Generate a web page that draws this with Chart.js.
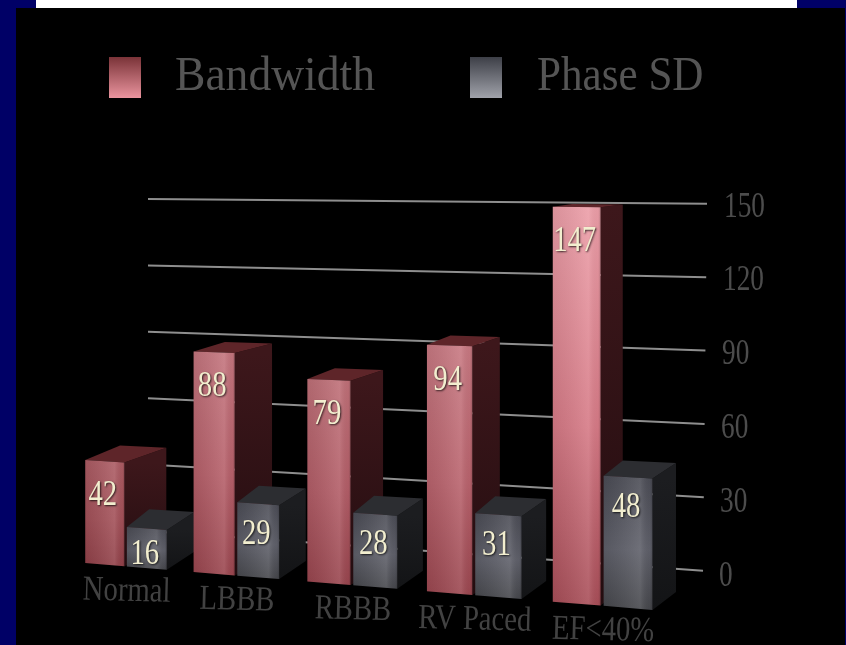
<!DOCTYPE html>
<html>
<head>
<meta charset="utf-8">
<script src="https://cdn.jsdelivr.net/npm/chart.js@4"></script>
<style>
  html, body { margin: 0; padding: 0; width: 846px; height: 645px; overflow: hidden; background: #000066; }
  #topbar { position: absolute; left: 36px; top: 0; width: 761px; height: 8px; background: #fff; }
  #panel { position: absolute; left: 16px; top: 8px; width: 829px; height: 637px; background: #000; }
  #chart { position: absolute; left: 0; top: 0; }
</style>
</head>
<body>
<div id="topbar"></div>
<div id="panel"></div>
<canvas id="chart" width="846" height="645"></canvas>
<script>
const categories = ['Normal', 'LBBB', 'RBBB', 'RV Paced', 'EF<40%'];
const bandwidth = [42, 88, 79, 94, 147];
const phaseSd = [16, 29, 28, 31, 48];
const axisMax = 150;
const axisStep = 30;

const SERIF = '"Liberation Serif", serif';

// The flat chart area is viewed in perspective: u runs 0..1 across the area
const viewX = u => (517.4 * u + 72.4) / (1 - 0.1182 * u);
// y on the plane holding the bar fronts
const frontY = (x, val) => 563 + 0.0825 * (x - 84) - val * (2.452 + 0.0005 * (x - 84));
// y on the back wall holding the grid lines
const wallY = (x, val) => {
  const y0 = 531 + 0.0716 * (x - 148);
  const yTop = 199 + 0.0084 * (x - 148);
  return y0 + (yTop - y0) * val / axisMax;
};

const mix = (a, b, t) => 'rgb(' + a.map((c, i) => Math.round(c + (b[i] - c) * t)).join(',') + ')';

function poly(ctx, pts, fill) {
  ctx.beginPath();
  pts.forEach((p, i) => i ? ctx.lineTo(p[0], p[1]) : ctx.moveTo(p[0], p[1]));
  ctx.closePath();
  ctx.fillStyle = fill;
  ctx.fill();
}

function text(ctx, str, x, y, size, stretch, color, angle) {
  ctx.save();
  ctx.translate(x, y + 2);
  ctx.rotate(angle || 0);
  ctx.scale(stretch, 1);
  ctx.font = size + 'px ' + SERIF;
  ctx.fillStyle = color;
  ctx.textBaseline = 'middle';
  ctx.fillText(str, 0, 0);
  ctx.restore();
}

function centerText(ctx, str, x, y, size, stretch, color, angle) {
  ctx.font = size + 'px ' + SERIF;
  const w = ctx.measureText(str).width * stretch;
  const a = angle || 0;
  text(ctx, str, x - Math.cos(a) * w / 2, y - Math.sin(a) * w / 2, size, stretch, color, a);
}

// Grey boxes are shallower than the red ones
function depth(x, y, series) {
  const dx = series === 0 ? 0.0415 * (1135 - x) : 0.0082 * (3400 - x) + 1;
  const dy = Math.min(18, 0.047 * (y - 150));
  return [dx, -dy];
}

function drawBox(ctx, x0, x1, val, series) {
  const bl = [x0, frontY(x0, 0)], br = [x1, frontY(x1, 0)];
  const tl = [x0, frontY(x0, val)], tr = [x1, frontY(x1, val)];
  const dTr = depth(tr[0], tr[1], series), dBr = depth(br[0], br[1], series);
  const dTl = depth(tl[0], tl[1], series);
  const backTr = [tr[0] + dTr[0], tr[1] + dTr[1]];
  const backBr = [br[0] + dBr[0], br[1] + dBr[1]];
  const backTl = [tl[0] + dTl[0] * 0.8, tl[1] + dTl[1]];

  const side = ctx.createLinearGradient(0, tr[1], 0, br[1]);
  side.addColorStop(0, series === 0 ? '#3d171b' : '#1c1d20');
  side.addColorStop(1, series === 0 ? '#240d10' : '#131416');
  poly(ctx, [tr, backTr, backBr, br], side);
  poly(ctx, [tl, backTl, backTr, tr], series === 0 ? '#5e2529' : '#2c2d31');

  const g = ctx.createLinearGradient(0, Math.min(tl[1], tr[1]), 0, Math.max(bl[1], br[1]));
  if (series === 0) {
    const t = Math.pow(val / 147, 1.4);
    g.addColorStop(0, mix([158, 78, 86], [236, 158, 168], t));
    g.addColorStop(0.55, mix([152, 72, 80], [214, 122, 134], t));
    g.addColorStop(1, mix([140, 62, 70], [168, 78, 88], t));
  } else {
    g.addColorStop(0, '#4b4c55');
    g.addColorStop(0.55, '#5f606a');
    g.addColorStop(1, '#46474c');
  }
  poly(ctx, [tl, tr, br, bl], g);

  // rounded shading across the front face
  const s = ctx.createLinearGradient(x0, 0, x1, 0);
  s.addColorStop(0, 'rgba(0,0,0,0.08)');
  s.addColorStop(0.75, 'rgba(255,255,255,0.1)');
  s.addColorStop(0.95, 'rgba(0,0,0,0.03)');
  s.addColorStop(1, 'rgba(0,0,0,0.18)');
  poly(ctx, [tl, tr, br, bl], s);
}

const perspectivePlugin = {
  id: 'perspective',
  // grid lines and axis numbers on the back wall
  beforeDatasetsDraw(chart) {
    const ctx = chart.ctx, y = chart.scales.y;
    y.ticks.forEach(tick => {
      const end = 703 + 4 * tick.value / axisMax;
      ctx.beginPath();
      ctx.moveTo(148, wallY(148, tick.value));
      ctx.lineTo(end, wallY(end, tick.value));
      ctx.strokeStyle = '#8e8e8e';
      ctx.lineWidth = 2;
      ctx.stroke();
      text(ctx, tick.label, 719 + 5 * tick.value / axisMax, y.getPixelForValue(tick.value),
        35, 0.78, '#4c4c4c');
    });
  },
  // boxes replace the plain bars, left to right so nearer faces overlap
  afterDatasetsDraw(chart) {
    const ctx = chart.ctx, area = chart.chartArea;
    const toView = px => viewX((px - area.left) / area.width);
    const metas = chart.data.datasets.map((d, i) => chart.getDatasetMeta(i));
    categories.forEach((name, i) => {
      metas.forEach((meta, s) => {
        const el = meta.data[i];
        const val = chart.data.datasets[s].data[i];
        drawBox(ctx, toView(el.x - el.width / 2), toView(el.x + el.width / 2), val, s);
      });
      const rx = toView(metas[0].data[i].x + metas[0].data[i].width / 2);
      const gx = toView(metas[1].data[i].x - metas[1].data[i].width / 2);
      const mid = (rx + gx) / 2;
      centerText(ctx, name, mid + 1, frontY(mid, 0) + 23, 35, 0.82, '#424242', 0.025);
    });
    // value labels sit on top of all the boxes
    categories.forEach((name, i) => {
      metas.forEach((meta, s) => {
        const el = meta.data[i];
        const val = chart.data.datasets[s].data[i];
        const x0 = toView(el.x - el.width / 2), x1 = toView(el.x + el.width / 2);
        const cx = (x0 + x1) / 2;
        // short bars keep the label clear of the floor
        const labelY = Math.min(frontY(cx, val) + (s === 0 ? 33 : 29), frontY(cx, 0) - 15);
        ctx.save();
        ctx.shadowColor = 'rgba(0,0,0,0.75)';
        ctx.shadowBlur = 2;
        ctx.shadowOffsetX = 1;
        ctx.shadowOffsetY = 1;
        centerText(ctx, String(val), cx - 2, labelY, 35, 0.82, '#f2eecf');
        ctx.restore();
      });
    });
    // legend
    const swatches = [
      { x: 109, text: 175, stretch: 0.93, top: '#7a3338', bottom: '#ea949e' },
      { x: 470, text: 537, stretch: 0.88, top: '#3d3f47', bottom: '#a0a2aa' }
    ];
    swatches.forEach((sw, s) => {
      const g = ctx.createLinearGradient(0, 57, 0, 98);
      g.addColorStop(0, sw.top);
      g.addColorStop(1, sw.bottom);
      ctx.fillStyle = g;
      ctx.fillRect(sw.x, 57, 32, 41);
      text(ctx, chart.data.datasets[s].label, sw.text, 75, 49, sw.stretch, '#555555');
    });
  }
};

new Chart(document.getElementById('chart').getContext('2d'), {
  type: 'bar',
  data: {
    labels: categories,
    datasets: [
      { label: 'Bandwidth', data: bandwidth, backgroundColor: 'transparent' },
      { label: 'Phase SD', data: phaseSd, backgroundColor: 'transparent' }
    ]
  },
  options: {
    responsive: false,
    animation: false,
    categoryPercentage: 0.78,
    barPercentage: 0.94,
    layout: { padding: { left: 16, right: 136, top: 205.5, bottom: 70.5 } },
    plugins: { legend: { display: false }, tooltip: { enabled: false } },
    scales: {
      x: { display: false },
      y: { display: false, position: 'right', min: 0, max: axisMax, ticks: { stepSize: axisStep } }
    }
  },
  plugins: [perspectivePlugin]
});
</script>
</body>
</html>
